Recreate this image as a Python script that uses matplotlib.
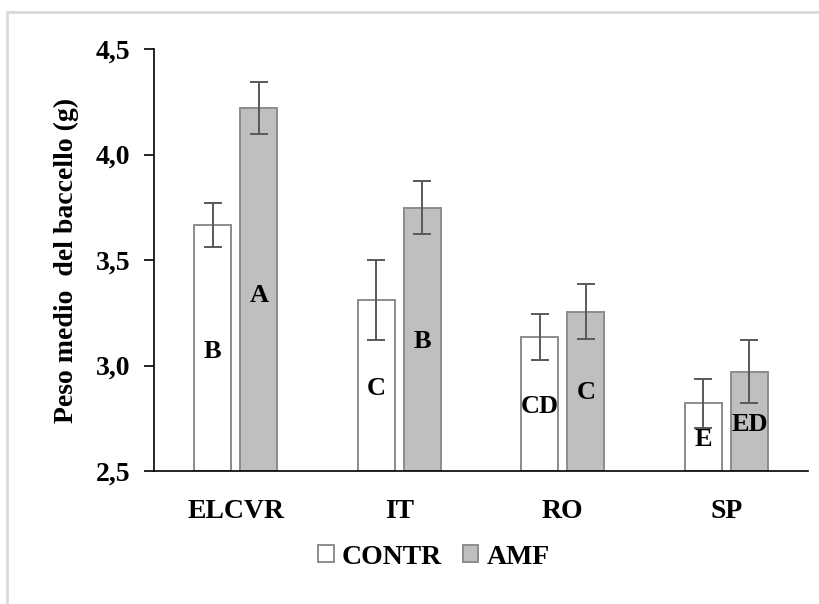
import matplotlib.pyplot as plt
import numpy as np
from matplotlib.patches import Rectangle

# data
categories = ["ELCVR", "IT", "RO", "SP"]
contr = [3.666, 3.31, 3.136, 2.82]
contr_err = [0.105, 0.19, 0.11, 0.115]
amf = [4.22, 3.748, 3.254, 2.97]
amf_err = [0.125, 0.125, 0.13, 0.15]
contr_letters = ["B", "C", "CD", "E"]
amf_letters = ["A", "B", "C", "ED"]
contr_letter_y = [3.064, 2.889, 2.808, 2.647]
amf_letter_y = [3.334, 3.116, 2.87, 2.72]

plt.rcParams['font.family'] = ['Liberation Serif', 'DejaVu Serif']
plt.rcParams['font.weight'] = 'bold'

fig = plt.figure(figsize=(8.2, 6.04), dpi=100)
ax = fig.add_axes([154 / 820, 133 / 604, 654 / 820, 422 / 604])

# light grey frame round the chart area
fig.patches.append(Rectangle((7 / 820, -0.05), 1.1, (604 - 12) / 604 + 0.05,
                             transform=fig.transFigure, fill=False,
                             edgecolor='#d9d9d9', linewidth=2))

x = np.arange(len(categories))
w = 0.226
off = 0.142

ax.bar(x - off, [v - 2.5 for v in contr], w, bottom=2.5, color='white',
       edgecolor='#8c8c8c', linewidth=1.4, label='CONTR', zorder=2)
ax.bar(x + off, [v - 2.5 for v in amf], w, bottom=2.5, color='#bfbfbf',
       edgecolor='#8c8c8c', linewidth=1.4, label='AMF', zorder=2)
ax.errorbar(x - off, contr, yerr=contr_err, fmt='none', ecolor='#595959',
            elinewidth=1.4, capsize=6.5, capthick=1.4, zorder=3)
ax.errorbar(x + off, amf, yerr=amf_err, fmt='none', ecolor='#595959',
            elinewidth=1.4, capsize=6.5, capthick=1.4, zorder=3)

for i in range(len(categories)):
    ax.text(x[i] - off, contr_letter_y[i], contr_letters[i], ha='center',
            va='center', fontsize=19, fontweight='bold', zorder=4)
    ax.text(x[i] + off, amf_letter_y[i], amf_letters[i], ha='center',
            va='center', fontsize=19, fontweight='bold', zorder=4)

ax.set_xlim(-0.5, 3.5)
ax.set_ylim(2.5, 4.5)
ax.set_yticks([2.5, 3.0, 3.5, 4.0, 4.5])
ax.set_yticklabels(["2,5", "3,0", "3,5", "4,0", "4,5"], fontsize=20, fontweight='bold')
ax.set_xticks(x)
ax.set_xticklabels(categories, fontsize=20, fontweight='bold')
ax.tick_params(axis='x', length=0, pad=20)
ax.tick_params(axis='y', length=7, width=1.2, direction='out', pad=10)
ax.set_ylabel("Peso medio  del baccello (g)", fontsize=20, fontweight='bold', labelpad=12)

for s in ['top', 'right']:
    ax.spines[s].set_visible(False)
ax.spines['left'].set_linewidth(1.2)
ax.spines['bottom'].set_linewidth(1.2)

fig.legend(loc='center', bbox_to_anchor=(434 / 820, 1 - 557 / 604), ncol=2,
           frameon=False, prop={'size': 20, 'weight': 'bold'},
           handlelength=0.55, handleheight=0.55, handletextpad=0.3, columnspacing=0.75)

fig.savefig('out.png', dpi=100)
